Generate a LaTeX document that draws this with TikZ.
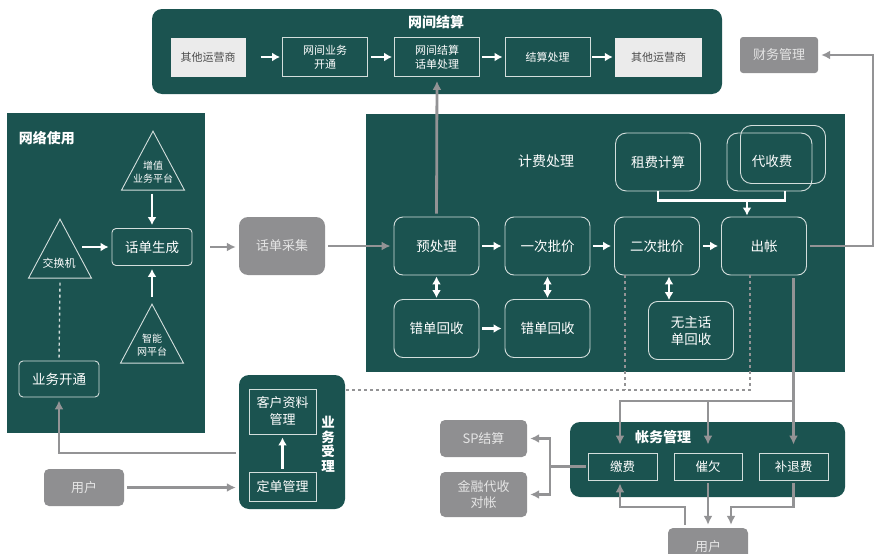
\documentclass[tikz,border=0pt]{standalone}
\usepackage{fontspec}
\setmainfont{Noto Sans CJK SC}
\usetikzlibrary{arrows.meta,shapes.geometric}
\definecolor{panelgreen}{HTML}{1B5350}
\definecolor{boxgray}{HTML}{8F8F91}
\definecolor{linegray}{HTML}{939395}
\definecolor{boxpale}{HTML}{EBEBEB}
\definecolor{rimpale}{HTML}{D3DEDC}
\tikzset{
  panel/.style={fill=panelgreen,draw=none,inner sep=0pt},
  okbox/.style={draw=rimpale,line width=0.9pt,rounded corners=9pt,text=white,inner sep=0pt,align=center,font=\fontsize{13.5}{17}\selectfont},
  billbox/.style={okbox,minimum width=85pt,minimum height=58pt},
  flatbox/.style={draw=rimpale,line width=0.9pt,text=white,inner sep=0pt,align=center,font=\fontsize{12.5}{15}\selectfont},
  topbox/.style={flatbox,minimum width=85pt,minimum height=39pt,font=\fontsize{11}{14}\selectfont},
  palebox/.style={fill=boxpale,text=black!70,inner sep=0pt,minimum width=75pt,minimum height=39pt,font=\fontsize{11}{14}\selectfont},
  greybox/.style={fill=boxgray,rounded corners=5pt,text=white!90!black,inner sep=0pt,align=center,font=\fontsize{13}{16}\selectfont},
  tribox/.style={draw=rimpale,line width=0.9pt,isosceles triangle,isosceles triangle stretches,shape border rotate=90,minimum width=63pt,minimum height=59pt,inner sep=0pt,anchor=apex},
  tritext/.style={text=white,align=center,inner sep=0pt,font=\fontsize{10}{13}\selectfont},
  title/.style={text=white,inner sep=0pt,align=center,font=\fontsize{14}{15}\selectfont\bfseries},
  wline/.style={draw=white,line width=2.8pt,-{Latex[length=8pt,width=9pt]},shorten <=3pt,shorten >=3pt},
  wboth/.style={wline,{Latex[length=8pt,width=9pt]}-{Latex[length=8pt,width=9pt]}},
  wdash/.style={draw=rimpale,line width=1.4pt,dashed},
  gline/.style={draw=linegray,line width=2.8pt,-{Latex[length=9pt,width=9pt]},shorten <=3pt,shorten >=3pt},
  gplain/.style={draw=linegray,line width=2.8pt},
  gdash/.style={draw=linegray,line width=1.4pt,dashed}
}
\begin{document}
\begin{tikzpicture}[x=1pt,y=-1pt]
\useasboundingbox (0,0) rectangle (887,554);

% panels
\node[panel,minimum width=198pt,minimum height=320pt] (usepanel) at (106,273) {};
\node[panel,minimum width=570pt,minimum height=85pt,rounded corners=10pt] (netpanel) at (437,51.5) {};
\node[panel,minimum width=479pt,minimum height=258pt] (billpanel) at (605.5,243) {};
\node[panel,minimum width=106pt,minimum height=134pt,rounded corners=10pt] (svcpanel) at (292,442) {};
\node[panel,minimum width=275pt,minimum height=75pt,rounded corners=10pt] (acctpanel) at (707.5,459.5) {};

\node[title] (usetitle) at (47,138) {网络使用};
\node[title] (nettitle) at (436,22) {网间结算};
\node[text=white,inner sep=0pt,font=\fontsize{14}{15}\selectfont] (billtitle) at (546,161) {计费处理};
\node[title] (accttitle) at (663,437) {帐务管理};
\node[title,font=\fontsize{13.5}{14.5}\selectfont\bfseries] (svctitle) at (328,444) {业\\务\\受\\理};

% network use
\node[tribox] (vas) at (153,130) {};
\node[tritext] (vastext) at (153,172) {增值\\业务平台};
\node[tribox] (switch) at (60,218) {};
\node[tritext,font=\fontsize{11}{13}\selectfont] (switchtext) at (59,263) {交换机};
\node[tribox] (smart) at (152,303) {};
\node[tritext] (smarttext) at (152,345.5) {智能\\网平台};
\node[okbox,minimum width=80pt,minimum height=37pt,rounded corners=4pt] (gen) at (152,247) {话单生成};
\node[okbox,minimum width=80pt,minimum height=36pt,rounded corners=4pt] (open) at (59,379) {业务开通};
\coordinate (switchout) at (79,247);
\coordinate (genout) at (207,247);
\draw[wline] (switchout) -- (gen.west);
\draw[wline] (gen.north |- vas.south) -- (gen.north);
\draw[wline] (gen.south |- smart.north) ++(0,-3) -- (gen.south);
\draw[wdash] (switch.south) ++(0,4) -- (open.north);

% outside left
\node[greybox,minimum width=86pt,minimum height=58pt,rounded corners=9pt] (collect) at (282,246) {话单采集};
\node[greybox,minimum width=80pt,minimum height=37pt] (user) at (84,487.5) {用户};
\node[flatbox,minimum width=67pt,minimum height=45pt,font=\fontsize{13}{17}\selectfont] (profile) at (282.5,411.5) {客户资料\\管理};
\node[flatbox,minimum width=67pt,minimum height=29pt,font=\fontsize{13}{17}\selectfont] (order) at (282.5,486.5) {定单管理};
\coordinate (svcout) at (239,453);
\draw[wline] (order.north) -- (profile.south);
\draw[gline] (genout) -- (genout -| collect.west);
\draw[gline] (svcout) -| (open.south);
\draw[gline] (user.east) -- (user.east -| svcpanel.west);

% interconnect
\node[palebox] (carrier) at (208,57) {其他运营商};
\node[topbox] (netopen) at (325,57) {网间业务\\开通};
\node[topbox] (netproc) at (437,57) {网间结算\\话单处理};
\node[topbox] (settle) at (547.5,57) {结算处理};
\node[palebox,minimum width=87pt] (carrierb) at (658.5,57) {其他运营商};
\node[greybox,minimum width=78pt,minimum height=36pt,rounded corners=3pt] (finance) at (779,55) {财务管理};
\draw[wline,shorten <=15pt,shorten >=2pt] (carrier) -- (netopen);
\draw[wline,shorten >=2pt] (netopen) -- (netproc);
\draw[wline,shorten <=2pt,shorten >=2pt] (netproc) -- (settle);
\draw[wline,shorten <=2pt,shorten >=2pt] (settle) -- (carrierb);

% billing
\node[billbox] (pre) at (436.5,246) {预处理};
\node[billbox] (rate) at (547.5,246) {一次批价};
\node[billbox] (rerate) at (657,246) {二次批价};
\node[billbox] (bill) at (764,246) {出帐};
\node[billbox] (err) at (436.5,328.5) {错单回收};
\node[billbox] (errb) at (547.5,328.5) {错单回收};
\node[billbox] (orphan) at (691,330.5) {无主话\\单回收};
\node[billbox,rounded corners=11pt] (rent) at (658,162) {租费计算};
\node[billbox,rounded corners=11pt] (agentb) at (769.5,162) {};
\node[billbox,rounded corners=11pt] (agent) at (783,154.5) {};
\node[text=white,inner sep=0pt,font=\fontsize{13.5}{17}\selectfont] (agenttext) at (772,161) {代收费};
\coordinate (feejoin) at (747,200);
\coordinate (billturn) at (873,246);
\coordinate (splitb) at (793,401);
\draw[gline] (collect.east) -- (pre.west);
\draw[gline,shorten >=4pt] (pre.north) -- (netproc.south);
\draw[gline] (bill.east) -- (billturn) |- (finance.east);
\draw[wline] (pre) -- (rate);
\draw[wline] (rate) -- (rerate);
\draw[wline] (rerate) -- (bill);
\draw[wline] (err) -- (errb);
\draw[wboth,shorten <=1pt,shorten >=1pt] (pre) -- (err);
\draw[wboth,shorten <=1pt,shorten >=1pt] (rate) -- (errb);
\draw[wboth,shorten <=1pt,shorten >=1pt] (orphan.north -| 669,0) -- (rerate.south -| 669,0);
\draw[draw=white,line width=2.2pt] (rent.south) -- ++(0,9) -| (agentb.south -| 785,0);
\draw[wline,shorten <=0pt,shorten >=1pt] (feejoin) -- (feejoin |- bill.north);
\draw[gdash] (rerate.south -| 625,0) -- (625,390) (bill.south -| 750,0) -- (750,390) -- (svcpanel.east |- 0,390);

% accounts
\node[flatbox,minimum width=69pt,minimum height=27pt] (pay) at (622.5,466.5) {缴费};
\node[flatbox,minimum width=68pt,minimum height=27pt] (due) at (708,466.5) {催欠};
\node[flatbox,minimum width=69pt,minimum height=27pt] (refund) at (793.5,466.5) {补退费};
\node[greybox,minimum width=87pt,minimum height=37pt] (sp) at (483.5,438.5) {SP结算};
\node[greybox,minimum width=87pt,minimum height=45pt] (bank) at (483.5,494.5) {金融代收\\对帐};
\node[greybox,minimum width=80pt,minimum height=38pt] (userb) at (708,547) {用户};
\coordinate (payturn) at (685,507);
\coordinate (spjoin) at (550,466.5);
\draw[gline,shorten >=8pt] (bill.south -| refund.north) -- (refund.north);
\draw[gline,shorten <=0pt,shorten >=8pt] (splitb) -| ([xshift=-2.5pt]pay.north);
\draw[gline,shorten <=0pt,shorten >=8pt] (due.north |- splitb) -- (due.north);
\draw[gplain] (pay.west) ++(-2,0) -- (spjoin);
\draw[gline,shorten <=0pt] (spjoin) |- (sp.east);
\draw[gline,shorten <=0pt] (spjoin) |- (bank.east);
\draw[gline] (userb.north -| payturn) -- (payturn) -| ([xshift=-2.5pt]pay.south);
\draw[gline] (due.south) -- (userb.north);
\draw[gline] (refund.south) |- (731,507) -- (userb.north -| 731,0);
\end{tikzpicture}
\end{document}
